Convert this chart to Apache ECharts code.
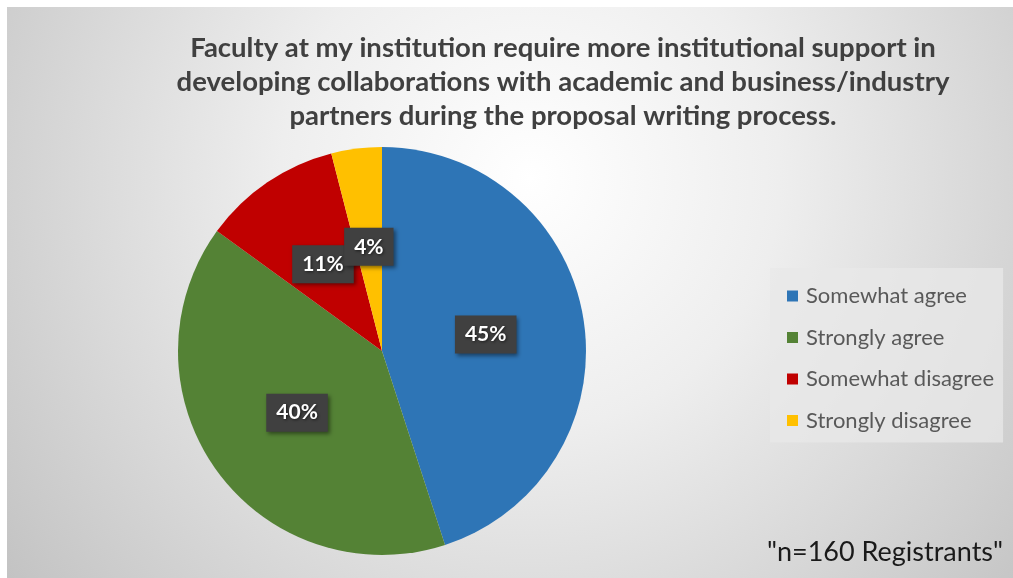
<!DOCTYPE html>
<html>
<head>
<meta charset="utf-8">
<script src="https://cdn.jsdelivr.net/npm/echarts@6/dist/echarts.min.js"></script>
<style>
  html, body { margin: 0; padding: 0; background: #ffffff; }
  #chart { width: 1013px; height: 578px; }
</style>
</head>
<body>
<div id="chart"></div>
<script>
const titleText = 'Faculty at my institution require more institutional support in\ndeveloping collaborations with academic and business/industry\npartners during the proposal writing process.';
const categories = ['Somewhat agree', 'Strongly agree', 'Somewhat disagree', 'Strongly disagree'];
const percentValues = [45, 40, 11, 4];
const sliceColors = ['#2E75B6', '#548235', '#C00000', '#FFC000'];
const noteText = '"n=160 Registrants"';

const chart = echarts.init(document.getElementById('chart'), null, { renderer: 'canvas' });

const option = {
  animation: false,
  backgroundColor: '#ffffff',
  color: sliceColors,
  title: {
    text: titleText,
    left: 558,
    top: 26,
    textAlign: 'center',
    textStyle: {
      fontFamily: 'Lato',
      fontWeight: 'bold',
      fontSize: 27.5,
      lineHeight: 34,
      color: '#404040'
    }
  },
  legend: {
    orient: 'vertical',
    left: 770,
    top: 268,
    backgroundColor: 'rgba(232,232,232,0.75)',
    padding: [17, 9, 11, 17],
    itemGap: 19.5,
    itemWidth: 11,
    itemHeight: 11,
    icon: 'rect',
    textStyle: {
      fontFamily: 'Lato',
      fontSize: 22,
      color: '#595959',
      padding: [0, 0, 0, 3]
    },
    data: categories
  },
  graphic: [
    {
      type: 'rect',
      z: -10,
      silent: true,
      shape: { x: 7, y: 7, width: 1006, height: 571 },
      style: {
        fill: {
          type: 'radial',
          x: 0.52,
          y: 0.3,
          r: 1.25,
          colorStops: [
            { offset: 0, color: '#ffffff' },
            { offset: 0.35, color: '#eeeeee' },
            { offset: 1, color: '#bdbdbd' }
          ]
        }
      }
    },
    {
      type: 'text',
      right: 10,
      bottom: 12,
      style: {
        text: noteText,
        fontFamily: 'Lato',
        fontSize: 27,
        fill: '#1a1a1a'
      }
    }
  ],
  series: [
    {
      type: 'pie',
      center: [382, 351],
      radius: 204,
      startAngle: 90,
      clockwise: true,
      avoidLabelOverlap: false,
      minShowLabelAngle: 0,
      labelLayout: { hideOverlap: false },
      itemStyle: { borderWidth: 0 },
      label: {
        show: true,
        position: 'inside',
        formatter: function (p) { return p.value + '%'; },
        fontFamily: 'Lato',
        fontWeight: 'bold',
        fontSize: 21,
        color: '#ffffff',
        textShadowColor: 'rgba(0,0,0,0.6)',
        textShadowBlur: 3,
        textShadowOffsetX: 1,
        textShadowOffsetY: 1,
        backgroundColor: '#404040',
        padding: [9, 10, 8, 10],
        shadowColor: 'rgba(0,0,0,0.45)',
        shadowBlur: 4,
        shadowOffsetX: 2,
        shadowOffsetY: 2
      },
      labelLine: { show: false },
      data: categories.map((name, i) => ({ name: name, value: percentValues[i] }))
    }
  ]
};

chart.setOption(option);
</script>
</body>
</html>
